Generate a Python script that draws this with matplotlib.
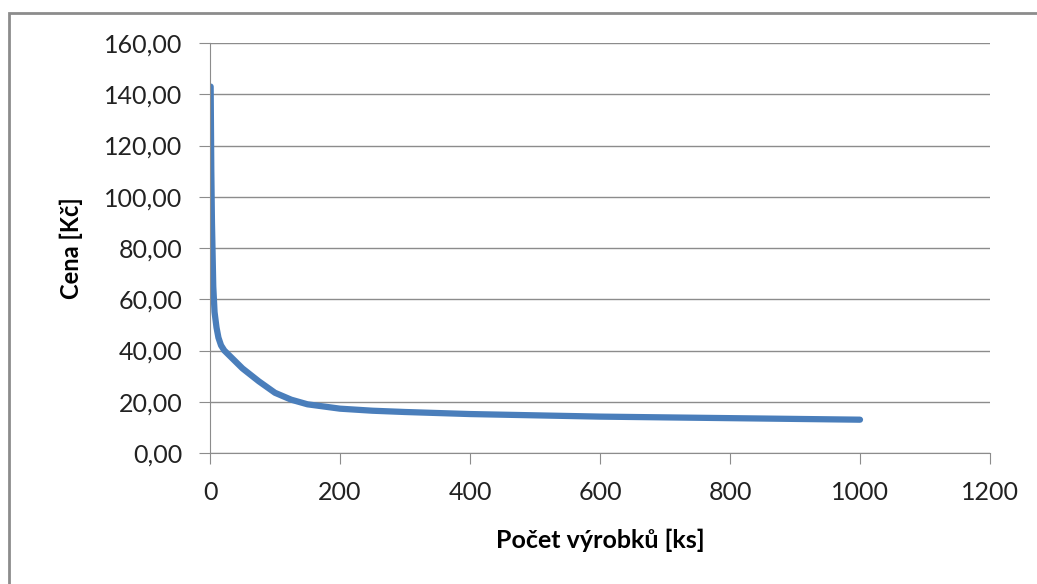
import matplotlib.pyplot as plt
from matplotlib.patches import Rectangle
from matplotlib.ticker import FuncFormatter

plt.rcParams['font.family'] = ['Lato', 'DejaVu Sans']

pocet = [1, 2, 3, 5, 7, 10, 13, 17, 22, 30, 40, 50, 75, 100, 125, 150, 200,
         250, 300, 400, 500, 600, 700, 800, 900, 1000]
cena = [143, 110, 90, 65, 55, 49, 45, 42, 40, 38, 35.5, 33, 28, 23.5, 20.8,
        19.0, 17.3, 16.5, 16.0, 15.2, 14.7, 14.2, 13.9, 13.6, 13.3, 13.0]

W, H = 1037, 584
fig = plt.figure(figsize=(W / 100, H / 100), dpi=100)
ax = fig.add_axes([210 / W, 1 - 453 / H, 780 / W, 410 / H])

fig.patches.append(Rectangle((9 / W, -0.05), 1.1, 1 - 13 / H + 0.05,
                             transform=fig.transFigure, fill=False,
                             edgecolor='#8c8c8c', linewidth=2))

ax.plot(pocet, cena, color='#4a7ebb', linewidth=4.5, solid_capstyle='round',
        solid_joinstyle='round')

ax.set_xlim(0, 1200)
ax.set_ylim(0, 160)
ax.set_xticks(range(0, 1201, 200))
ax.set_yticks(range(0, 161, 20))
ax.yaxis.set_major_formatter(FuncFormatter(lambda v, p: f'{v:.2f}'.replace('.', ',')))

ax.grid(axis='y', color='#8c8c8c', linewidth=1)
ax.set_axisbelow(True)
for s in ['top', 'right']:
    ax.spines[s].set_visible(False)
for s in ['left', 'bottom']:
    ax.spines[s].set_color('#8c8c8c')
ax.tick_params(direction='out', length=8, color='#8c8c8c', labelsize=18,
               labelcolor='#222222')
ax.tick_params(axis='y', pad=12)
ax.tick_params(axis='x', pad=12)

ax.set_xlabel('Počet výrobků [ks]', fontsize=18, fontweight='bold', labelpad=18)
ax.set_ylabel('Cena [Kč]', fontsize=17, fontweight='bold', labelpad=15)

fig.savefig('out.png', dpi=100)
